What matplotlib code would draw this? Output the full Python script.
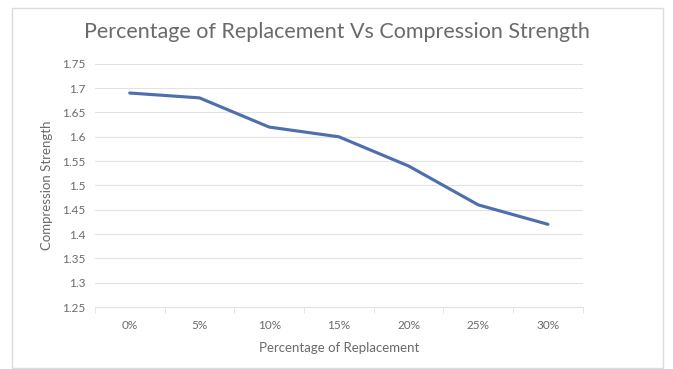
import matplotlib.pyplot as plt
from matplotlib.patches import Rectangle

categories = ['0%', '5%', '10%', '15%', '20%', '25%', '30%']
strength = [1.69, 1.68, 1.62, 1.60, 1.54, 1.46, 1.42]
y_ticks = [1.25, 1.3, 1.35, 1.4, 1.45, 1.5, 1.55, 1.6, 1.65, 1.7, 1.75]
y_tick_labels = ['1.25', '1.3', '1.35', '1.4', '1.45', '1.5', '1.55', '1.6', '1.65', '1.7', '1.75']

plt.rcParams['font.family'] = ['Lato', 'DejaVu Sans']
text_color = '#6a6a6a'

fig = plt.figure(figsize=(6.73, 3.69), dpi=100)
fig.patches.append(Rectangle((0.018, 0.003), 0.967, 0.975, transform=fig.transFigure,
                             fill=False, edgecolor='#dcdcdc', linewidth=1))

ax = fig.add_axes([0.141, 0.168, 0.725, 0.659])
x = list(range(len(categories)))
ax.plot(x, strength, color='#4d6fac', linewidth=2.25, solid_capstyle='round')

ax.set_xlim(-0.5, len(categories) - 0.5)
ax.set_ylim(1.25, 1.75)
ax.set_yticks(y_ticks)
ax.set_yticklabels(y_tick_labels)
ax.set_xticks(x)
ax.set_xticklabels(categories)
ax.set_xticks([i + 0.5 for i in range(-1, len(categories))], minor=True)

ax.grid(axis='y', color='#e2e2e2', linewidth=0.8)
ax.set_axisbelow(True)
for side in ['top', 'right', 'left']:
    ax.spines[side].set_visible(False)
ax.spines['bottom'].set_color('#e2e2e2')
ax.tick_params(axis='y', length=0, labelsize=8.5, labelcolor=text_color, pad=7)
ax.tick_params(axis='x', which='major', length=0, labelsize=8.5, labelcolor=text_color, pad=9)
ax.tick_params(axis='x', which='minor', length=4, color='#e2e2e2')

ax.set_xlabel('Percentage of Replacement', fontsize=9.5, color=text_color, labelpad=8)
ax.set_ylabel('Compression Strength', fontsize=9.5, color=text_color, labelpad=6)
fig.suptitle('Percentage of Replacement Vs Compression Strength', fontsize=15.5,
             color=text_color, y=0.94)

fig.savefig('out.png', dpi=100)
